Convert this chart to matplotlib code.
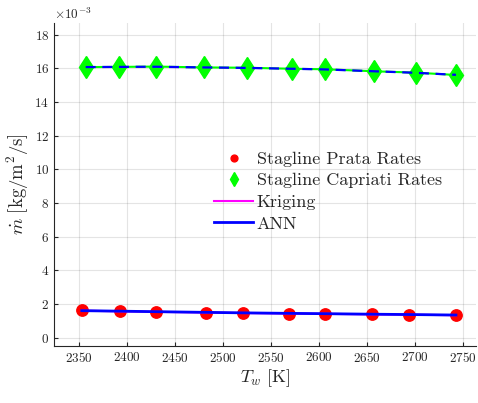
import matplotlib
matplotlib.use("Agg")
import matplotlib.pyplot as plt
from matplotlib.ticker import ScalarFormatter
import numpy as np

plt.rcParams['font.family'] = 'serif'
plt.rcParams['font.serif'] = ['cmr10']
plt.rcParams['mathtext.fontset'] = 'cm'
plt.rcParams['axes.unicode_minus'] = False
plt.rcParams['axes.formatter.use_mathtext'] = True

# Data
tw_prata = [2353, 2393, 2430, 2482, 2521, 2569, 2607, 2655, 2694, 2743]
mdot_prata = [1.62e-3, 1.56e-3, 1.52e-3, 1.46e-3, 1.44e-3, 1.42e-3, 1.40e-3, 1.38e-3, 1.36e-3, 1.32e-3]
tw_capriati = [2357, 2392, 2430, 2480, 2525, 2572, 2607, 2658, 2701, 2743]
mdot_capriati = [16.07e-3, 16.08e-3, 16.10e-3, 16.05e-3, 16.03e-3, 15.97e-3, 15.94e-3, 15.82e-3, 15.74e-3, 15.60e-3]
kriging_prata = [1.60e-3, 1.56e-3, 1.53e-3, 1.49e-3, 1.46e-3, 1.43e-3, 1.41e-3, 1.38e-3, 1.36e-3, 1.33e-3]
ann_prata = [1.60e-3, 1.57e-3, 1.54e-3, 1.50e-3, 1.47e-3, 1.44e-3, 1.42e-3, 1.39e-3, 1.37e-3, 1.34e-3]
kriging_capriati = [16.07e-3, 16.08e-3, 16.10e-3, 16.05e-3, 16.03e-3, 15.97e-3, 15.94e-3, 15.82e-3, 15.74e-3, 15.60e-3]
ann_capriati = [16.07e-3, 16.08e-3, 16.09e-3, 16.05e-3, 16.02e-3, 15.97e-3, 15.93e-3, 15.82e-3, 15.73e-3, 15.61e-3]
xticks = [2350, 2400, 2450, 2500, 2550, 2600, 2650, 2700, 2750]
yticks = [0, 2e-3, 4e-3, 6e-3, 8e-3, 10e-3, 12e-3, 14e-3, 16e-3, 18e-3]

fig = plt.figure(figsize=(4.78, 4.03), dpi=100)
ax = fig.add_axes([0.113, 0.1414, 0.883, 0.802])

dark = (0.15, 0.15, 0.15)

# Kriging / ANN lines
ax.plot(tw_capriati, kriging_capriati, '-', color=(0, 1, 0), lw=1.5, zorder=2)
ax.plot(tw_capriati, ann_capriati, '--', color=(0, 0, 1), lw=1.6, dashes=(4.5, 3), zorder=3)
lk, = ax.plot(tw_prata, kriging_prata, '-', color=(1, 0, 1), lw=1.5, zorder=2, label='Kriging')
la, = ax.plot(tw_prata, ann_prata, '-', color=(0, 0, 1), lw=2.0, zorder=3, label='ANN')

# Data markers
sp, = ax.plot(tw_prata, mdot_prata, 'o', color=(1, 0, 0), ms=8.2, ls='none', zorder=1, label='Stagline Prata Rates')
sc, = ax.plot(tw_capriati, mdot_capriati, 'd', color=(0, 1, 0), ms=11.2, ls='none', zorder=1, label='Stagline Capriati Rates')

ax.set_xlim(2324, 2764)
ax.set_ylim(-0.5e-3, 18.7e-3)
ax.set_xticks(xticks)
ax.set_yticks(yticks)

fmt = ScalarFormatter(useMathText=True)
fmt.set_powerlimits((-3, -3))
ax.yaxis.set_major_formatter(fmt)

ax.grid(True, color=(0.15, 0.15, 0.15), alpha=0.12, lw=0.8)
ax.set_axisbelow(True)
for s in ['top', 'right']:
    ax.spines[s].set_visible(False)
for s in ['left', 'bottom']:
    ax.spines[s].set_color(dark)
    ax.spines[s].set_linewidth(0.8)
ax.tick_params(direction='in', colors=dark, labelsize=9.5, length=3)
ax.yaxis.get_offset_text().set_fontsize(9.5)
ax.yaxis.get_offset_text().set_color(dark)

ax.set_xlabel(r'$T_w\ [\mathrm{K}]$', fontsize=13, color=dark, labelpad=2)
ax.set_ylabel(r'$\dot{m}\ [\mathrm{kg/m^2/s}]$', fontsize=13.5, color=dark, labelpad=2)

leg = ax.legend(handles=[sp, sc, lk, la], loc='upper left', bbox_to_anchor=(0.3626, 0.625),
                frameon=False, fontsize=13, handlelength=2.15, markerscale=0.6,
                labelspacing=0.33, handletextpad=0.2, borderaxespad=0)
for t in leg.get_texts():
    t.set_color(dark)

fig.savefig('out.png', dpi=100)
